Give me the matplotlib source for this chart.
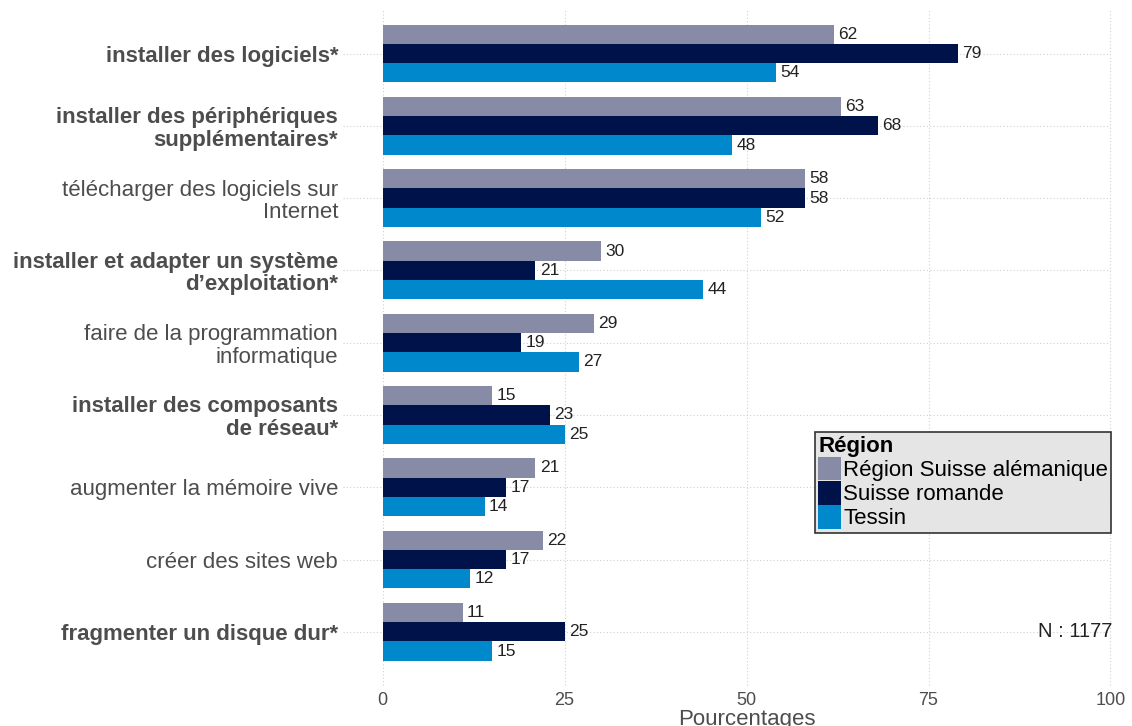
import numpy as np
import matplotlib.pyplot as plt
from matplotlib.patches import Patch

plt.rcParams['font.family'] = ['Liberation Sans', 'DejaVu Sans']

categories = [
    "installer des logiciels*",
    "installer des périphériques\nsupplémentaires*",
    "télécharger des logiciels sur\nInternet",
    "installer et adapter un système\nd’exploitation*",
    "faire de la programmation\ninformatique",
    "installer des composants\nde réseau*",
    "augmenter la mémoire vive",
    "créer des sites web",
    "fragmenter un disque dur*",
]
bold_flags = [True, True, False, True, False, True, False, False, True]

series_names = ["Région Suisse alémanique", "Suisse romande", "Tessin"]
alemanique = [62, 63, 58, 30, 29, 15, 21, 22, 11]
romande = [79, 68, 58, 21, 19, 23, 17, 17, 25]
tessin = [54, 48, 52, 44, 27, 25, 14, 12, 15]
colors = ["#878ba5", "#00124a", "#0088cc"]

xticks = [0, 25, 50, 75, 100]
n_label = "N : 1177"

fig = plt.figure(figsize=(11.32, 7.26), dpi=100)
ax = fig.add_axes([0.338, 0.070, 0.643, 0.916])

y = np.arange(len(categories))
h = 0.8 / 3
grid_c = "#d0d0d0"

# gridlines (extend a bit outside the panel like the ticks in the original)
ax.hlines(y, -0.055, 1, transform=ax.get_yaxis_transform(), clip_on=False,
          colors=grid_c, linestyles=(0, (1, 2)), linewidth=0.8, zorder=0)
ax.vlines(xticks, -0.015, 1, transform=ax.get_xaxis_transform(), clip_on=False,
          colors=grid_c, linestyles=(0, (1, 2)), linewidth=0.8, zorder=0)

for i, (vals, col) in enumerate(zip([alemanique, romande, tessin], colors)):
    pos = y + (i - 1) * h
    ax.barh(pos, vals, height=h, color=col, zorder=2)
    for p, v in zip(pos, vals):
        ax.text(v + 0.6, p, str(v), va='center', ha='left', fontsize=12.5,
                color='#222222', zorder=3)

ax.set_xlim(0, 100)
ax.set_ylim(len(categories) - 0.4, -0.6)
ax.set_xticks(xticks)
ax.set_xticklabels([str(t) for t in xticks], fontsize=13, color='#4d4d4d')
ax.set_yticks(y)
ax.set_yticklabels(categories, fontsize=16, color='#4d4d4d', linespacing=1.1)
for lab, b in zip(ax.get_yticklabels(), bold_flags):
    if b:
        lab.set_fontweight('bold')
ax.tick_params(axis='y', length=0, pad=32)
ax.tick_params(axis='x', length=0, pad=12)
ax.set_xlabel("Pourcentages", fontsize=16, color='#4d4d4d', labelpad=0)
for s in ax.spines.values():
    s.set_visible(False)

ax.text(1.003, len(categories) - 1, n_label, transform=ax.get_yaxis_transform(),
        ha='right', va='center', fontsize=14.5, color='#222222')

handles = [Patch(facecolor=c, edgecolor='none') for c in colors]
leg = ax.legend(handles, series_names, title="Région", loc='upper left',
                bbox_to_anchor=(0.594, 0.365), fontsize=16, title_fontsize=16,
                frameon=True, fancybox=False, handlelength=1.0, handleheight=1.25,
                handletextpad=0.12, labelspacing=0.0, borderpad=0.15,
                borderaxespad=0)
leg.get_title().set_fontweight('bold')
leg._legend_box.align = 'left'
leg.get_frame().set_facecolor('#e5e5e5')
leg.get_frame().set_edgecolor('#333333')
leg.get_frame().set_linewidth(1.2)
leg.get_frame().set_alpha(1)

fig.savefig("out.png", dpi=100)
